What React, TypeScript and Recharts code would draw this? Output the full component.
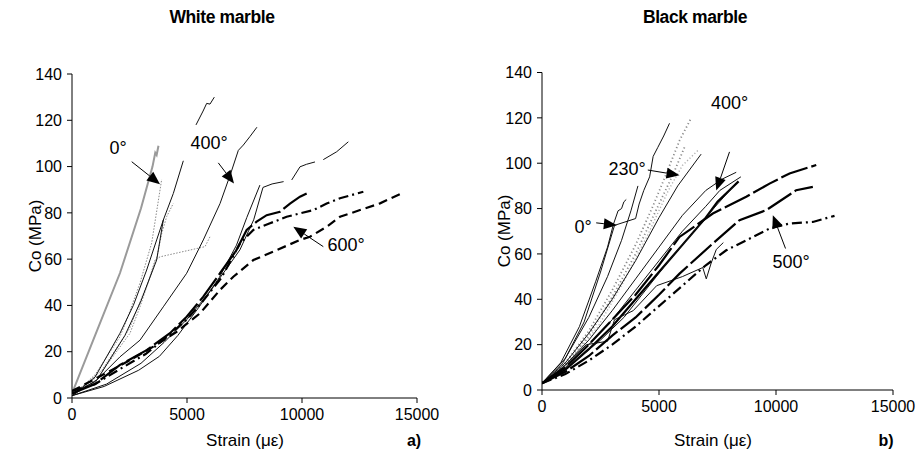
import React from 'react';
import { LineChart, Line, XAxis, YAxis, ReferenceLine, ReferenceDot } from 'recharts';

// axis ticks
const strainTicks = [0, 5000, 10000, 15000];
const coTicks = [0, 20, 40, 60, 80, 100, 120, 140];

// ---- white marble (strain, Co) ----
const wZeroGray = [[0, 2], [1000, 27], [2087, 54], [3000, 82], [3500, 100], [3620, 106], [3680, 105], [3760, 109]];
const wDot1 = [[0, 1], [1000, 10], [2087, 26.5], [2378, 33.7], [2957, 49.7], [3465, 67], [3900, 94.5]];
const wDot2 = [[0, 1], [1200, 10], [2522, 28], [2957, 39.4], [3391, 52.4], [3609, 59.6], [3826, 61], [5783, 65.4], [6000, 69.7]];
const wDot3 = [[0, 1], [1300, 12], [2500, 30], [3300, 50], [3696, 61], [3900, 71], [4117, 78.4], [4406, 84.1]];
const wThin1 = [[0, 1], [1000, 9], [2087, 28], [2667, 40], [3246, 55.3], [3681, 68.3], [3970, 76.9], [4406, 88.4], [4840, 102.5], [5100, null], [5391, 118], [5700, 124], [5855, 127.3], [6000, 127], [6188, 130]];
const wThin2 = [[0, 1], [1100, 8], [2300, 27], [3000, 42], [3680, 59.6], [3970, 76.9]];
const w400 = [[0, 2], [1000, 7], [2087, 17.8], [2957, 25], [3970, 39.4], [4986, 53.9], [5709, 68.3], [6435, 84], [6900, 97], [7232, 107], [7449, 109.3], [7739, 113], [8040, 117]];
const wThin3 = [[0, 1], [1400, 5], [2900, 12], [3800, 18], [4600, 27], [5500, 39], [6400, 52], [7150, 66], [7600, 78], [8170, 92]];
const wThin4 = [[0, 1], [1500, 6], [3000, 15], [4000, 24], [5000, 34], [6000, 46], [6800, 57], [7300, 64], [7900, 77], [8304, 91], [8700, 92.5], [9200, 93.5], [9350, null], [9552, 94.2], [9913, 99.9], [10200, 101], [10565, 102], [10750, null], [10926, 103], [11507, 106.4], [12014, 110.7]];
const wThick = [[0, 2], [1000, 6], [2087, 14.3], [3246, 20.7], [4261, 28], [4986, 35.1], [5709, 43.8], [6435, 53.9], [7159, 64], [7594, 72.6], [8029, 76.2], [8464, 79], [9043, 80.5], [9478, 84], [9913, 87], [10348, 89.1]];
const wDashDot = [[0, 3], [1000, 6], [2000, 12], [3200, 19], [4200, 27], [5000, 34], [5700, 42], [6500, 52], [7304, 66.8], [7884, 72.6], [8609, 75.5], [9333, 78.3], [9913, 79.8], [10493, 81.2], [11072, 84], [11652, 86.3], [12667, 89.1]];
const w600 = [[0, 3], [928, 7.8], [2522, 16.4], [3536, 22.2], [4551, 28.6], [5565, 36.6], [6435, 46.7], [7014, 52.4], [7884, 59.6], [8899, 63.9], [9913, 68.3], [10348, 69.7], [11072, 74], [11652, 78.3], [12522, 81.2], [13391, 84.1], [14350, 88.5]];

// ---- black marble ----
const bZero1 = [[0, 3], [800, 12], [1600, 28], [2300, 48], [2800, 63], [3050, 73], [3250, 79], [3400, 80], [3500, 83], [3600, 84]];
const bZero2 = [[0, 3], [900, 12], [1800, 30], [2500, 52], [3100, 72.6], [4000, 75.6], [4150, 82], [4350, 88], [4600, 94], [4750, 103], [4950, 107], [5200, 112], [5450, 117.6]];
const bZero3 = [[0, 3], [1000, 14], [2000, 32], [2800, 50], [3400, 66], [3800, 79], [4100, 90]];
const b230a = [[0, 3], [1000, 12], [2000, 26], [3000, 44], [4000, 64], [4737, 81], [5300, 95], [5877, 110], [6380, 120]];
const b230b = [[0, 3], [1000, 11], [2000, 24], [3000, 41], [4000, 60], [5000, 82], [5600, 95], [6090, 107]];
const b230c = [[0, 3], [1200, 13], [2400, 28], [3500, 48], [4500, 68], [5400, 88], [6000, 99], [6700, 106]];
const bMid1 = [[0, 3], [1000, 12], [2000, 25], [3000, 40], [4000, 57], [5000, 76], [5800, 90], [6300, 97], [6800, 104]];
const bMid2 = [[0, 3], [1000, 11], [2000, 22], [3000, 35], [4000, 49], [5000, 63], [6000, 77], [7000, 88], [7700, 93], [8300, 96]];
const bMid3 = [[0, 3], [1000, 10], [2000, 20], [3000, 31], [4000, 44], [5000, 57], [6000, 70], [7000, 81], [7600, 88], [8500, 94]];
const b400 = [[0, 3], [1000, 9], [2000, 18], [3000, 28], [4000, 40], [5000, 52], [6000, 64], [7000, 76], [7500, 83], [8000, 88], [8400, 92]];
const bMid4 = [[0, 3], [1200, 11], [2500, 22], [3500, 32], [4500, 45], [5500, 58], [6500, 70], [7500, 82], [8200, 90]];
const bJog = [[0, 3], [900, 10], [1900, 20], [2800, 21.5], [3100, 31], [3900, 35], [4900, 46], [6000, 50], [6870, 54], [7020, 49], [7230, 56], [7450, 62], [7750, 65]];
const b500a = [[0, 3], [1000, 10], [2000, 20], [3000, 31], [4000, 42], [5000, 55], [5877, 67.5], [7300, 77.8], [8728, 85.2], [9723, 91], [10578, 95.5], [11720, 99.2]];
const b500b = [[0, 3], [1000, 8], [2000, 15], [3000, 24], [4000, 32], [5000, 42], [5877, 51.3], [7300, 64.6], [8441, 74.9], [9583, 79.3], [10864, 88.1], [11574, 89.6]];
const b500c = [[0, 3], [1000, 7], [2000, 13], [3000, 20], [4000, 28], [5000, 37], [6000, 46], [7000, 55], [7873, 61.6], [8728, 66], [9723, 71.2], [10578, 73.4], [11574, 74.1], [12501, 76.8]];

const styles = {
  gray: { stroke: '#9a9a9a', strokeWidth: 2 },
  dotted: { stroke: '#8a8a8a', strokeWidth: 1, strokeDasharray: '1.5 1.5' },
  dotGray: { stroke: '#8a8a8a', strokeWidth: 1.8, strokeDasharray: '1.2 2.6' },
  lightDot: { stroke: '#b0b0b0', strokeWidth: 1.4, strokeDasharray: '1.2 2.2' },
  thin: { stroke: '#111', strokeWidth: 1 },
  thick: { stroke: '#000', strokeWidth: 2.2 },
  broken: { stroke: '#000', strokeWidth: 2.2, strokeDasharray: '28 4' },
  dashDot: { stroke: '#000', strokeWidth: 2.2, strokeDasharray: '10 4 2 4' },
  dashed: { stroke: '#000', strokeWidth: 2.2, strokeDasharray: '9 5' },
};

const whiteSeries = [
  { pts: wDot1, s: 'dotted' }, { pts: wDot2, s: 'dotted' }, { pts: wDot3, s: 'dotted' },
  { pts: wZeroGray, s: 'gray' }, { pts: wThin1, s: 'thin' }, { pts: wThin2, s: 'thin' },
  { pts: w400, s: 'thin' }, { pts: wThin3, s: 'thin' }, { pts: wThin4, s: 'thin' },
  { pts: wThick, s: 'broken' }, { pts: wDashDot, s: 'dashDot' }, { pts: w600, s: 'dashed' },
];
const blackSeries = [
  { pts: b230c, s: 'lightDot' }, { pts: b230a, s: 'dotGray' }, { pts: b230b, s: 'dotGray' },
  { pts: bZero1, s: 'thin' }, { pts: bZero2, s: 'thin' }, { pts: bZero3, s: 'thin' },
  { pts: bMid1, s: 'thin' }, { pts: bMid2, s: 'thin' }, { pts: bMid3, s: 'thin' },
  { pts: b400, s: 'thick' }, { pts: bMid4, s: 'thin' }, { pts: bJog, s: 'thin' },
  { pts: b500a, s: 'broken' }, { pts: b500b, s: 'broken' }, { pts: b500c, s: 'dashDot' },
];

// annotations: label, text position, arrow start, arrow tip
const whiteNotes = [
  { label: '0°', text: [2000, 108], from: [2596, 102.1], to: [3826, 92.4] },
  { label: '400°', text: [5957, 110], from: [6361, 101.6], to: [7044, 92.7] },
  { label: '600°', text: [11913, 66], from: [10926, 65.4], to: [9623, 74] },
];
const blackNotes = [
  { label: '230°', text: [3633, 97.4], from: [4522, 97], to: [5877, 94.7] },
  { label: '0°', text: [1752, 71.8], from: [2316, 73.7], to: [3197, 72.7] },
  { label: '400°', text: [8015, 126.5], from: [8014, 105], to: [7445, 88] },
  { label: '500°', text: [10642, 56.5], from: [10407, 62.4], to: [9865, 77.1] },
];

const FONT = '"Liberation Sans", Arial, sans-serif';
const toPts = (arr) => arr.map(([x, y]) => ({ x, y }));

const Arrow = (p) => {
  const { x1, y1, x2, y2 } = p;
  const a = Math.atan2(y2 - y1, x2 - x1);
  const len = 13, hw = 5.5;
  const bx = x2 - len * Math.cos(a), by = y2 - len * Math.sin(a);
  const nx = -Math.sin(a) * hw, ny = Math.cos(a) * hw;
  return (
    <g>
      <line x1={x1} y1={y1} x2={bx} y2={by} stroke="#000" strokeWidth={1} />
      <polygon points={`${x2},${y2} ${bx + nx},${by + ny} ${bx - nx},${by - ny}`} fill="#000" />
    </g>
  );
};

const NoteText = (label) => (p) => (
  <text x={p.cx} y={p.cy} textAnchor="middle" dominantBaseline="central" fontSize={18} fontFamily={FONT} fill="#000">
    {label}
  </text>
);

const Panel = ({ series, notes, width, margin }) => (
  <LineChart width={width} height={469} margin={margin}>
    <XAxis
      type="number" dataKey="x" domain={[0, 15000]} ticks={strainTicks} allowDataOverflow
      height={30} stroke="#000" tickSize={5} tickMargin={6}
      tick={{ fill: '#000', fontSize: 16, fontFamily: FONT }}
    />
    <YAxis
      type="number" domain={[0, 140]} ticks={coTicks} allowDataOverflow
      width={62} stroke="#000" tickSize={5} tickMargin={5}
      tick={{ fill: '#000', fontSize: 16, fontFamily: FONT }}
    />
    {series.map((d, i) => (
      <Line
        key={i} data={toPts(d.pts)} dataKey="y" type="linear" dot={false}
        activeDot={false} isAnimationActive={false} {...styles[d.s]}
      />
    ))}
    {notes.map((n) => (
      <ReferenceLine
        key={'a' + n.label}
        segment={[{ x: n.from[0], y: n.from[1] }, { x: n.to[0], y: n.to[1] }]}
        shape={Arrow} ifOverflow="visible"
      />
    ))}
    {notes.map((n) => (
      <ReferenceDot
        key={'t' + n.label} x={n.text[0]} y={n.text[1]} r={1}
        shape={NoteText(n.label)} ifOverflow="visible"
      />
    ))}
  </LineChart>
);

const abs = (style) => ({ position: 'absolute', fontFamily: FONT, color: '#000', whiteSpace: 'nowrap', ...style });

export default function App() {
  return (
    <div style={{ position: 'absolute', left: 0, top: 0, width: 919, height: 469, background: '#fff', overflow: 'hidden' }}>
      <div style={{ position: 'absolute', left: 0, top: 0 }}>
        <Panel series={whiteSeries} notes={whiteNotes} width={460} margin={{ top: 74, right: 43, bottom: 41, left: 10 }} />
      </div>
      <div style={{ position: 'absolute', left: 460, top: 0 }}>
        <Panel series={blackSeries} notes={blackNotes} width={459} margin={{ top: 72.5, right: 26, bottom: 49, left: 20 }} />
      </div>

      <div style={abs({ left: 222, top: 17, transform: 'translate(-50%,-50%)', fontWeight: 'bold', fontSize: 17.5, letterSpacing: -0.4 })}>White marble</div>
      <div style={abs({ left: 695, top: 17, transform: 'translate(-50%,-50%)', fontWeight: 'bold', fontSize: 17.5, letterSpacing: -0.4 })}>Black marble</div>

      <div style={abs({ left: 36, top: 236, transform: 'translate(-50%,-50%) rotate(-90deg)', fontSize: 17 })}>Co (MPa)</div>
      <div style={abs({ left: 505, top: 231, transform: 'translate(-50%,-50%) rotate(-90deg)', fontSize: 17 })}>Co (MPa)</div>

      <div style={abs({ left: 245, top: 441, transform: 'translate(-50%,-50%)', fontSize: 17 })}>Strain (με)</div>
      <div style={abs({ left: 713, top: 441, transform: 'translate(-50%,-50%)', fontSize: 17 })}>Strain (με)</div>

      <div style={abs({ left: 414, top: 441, transform: 'translate(-50%,-50%)', fontSize: 16, fontWeight: 'bold' })}>a)</div>
      <div style={abs({ left: 886, top: 441, transform: 'translate(-50%,-50%)', fontSize: 16, fontWeight: 'bold' })}>b)</div>
    </div>
  );
}
